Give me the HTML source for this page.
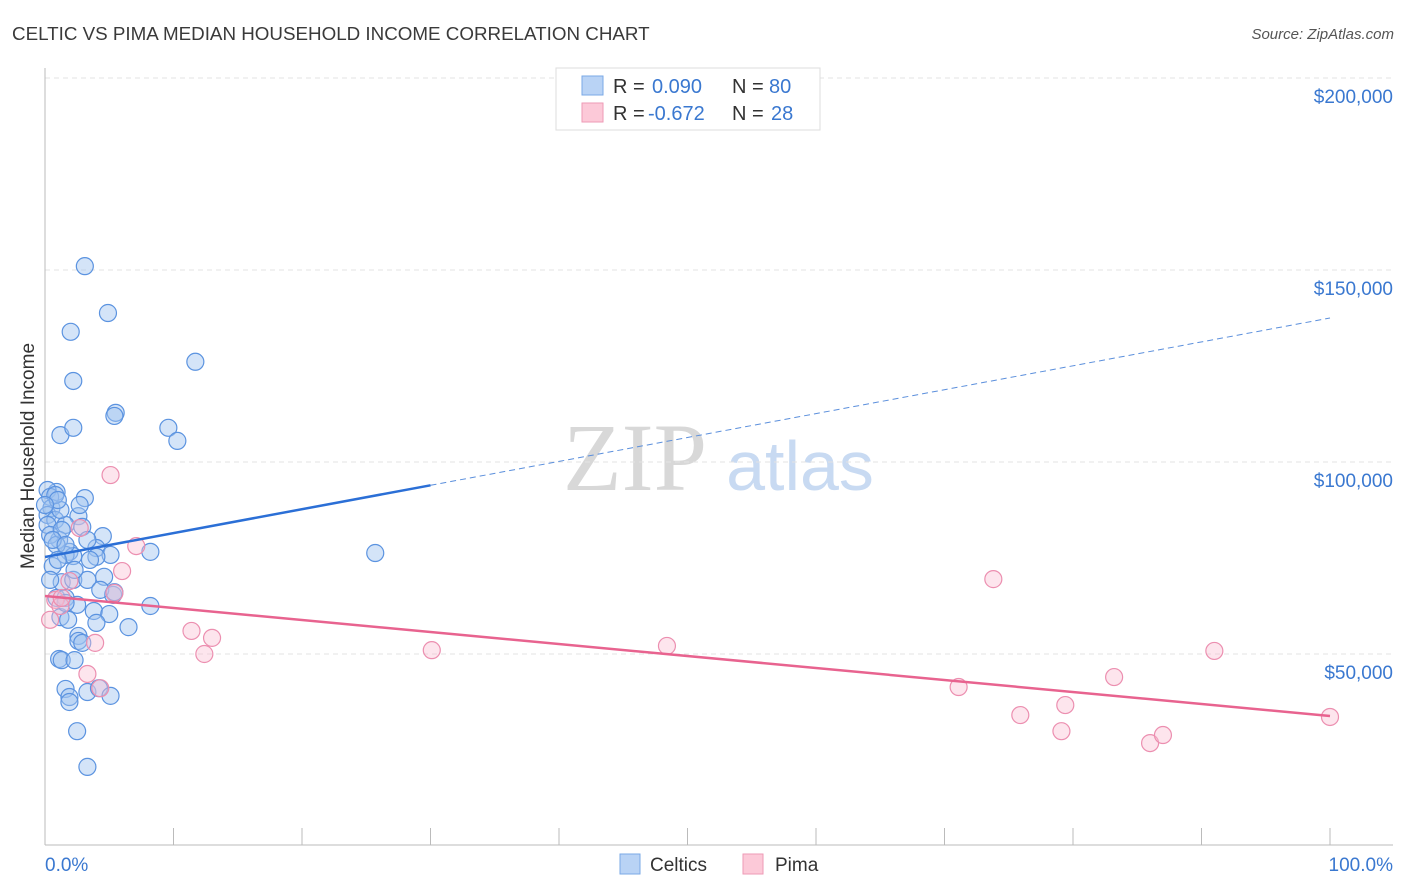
<!DOCTYPE html>
<html><head><meta charset="utf-8"><style>
body{margin:0;background:#fff;font-family:"Liberation Sans",sans-serif;}
svg{display:block}
</style></head><body>
<svg id="chart" width="1406" height="892" viewBox="0 0 1406 892" xmlns="http://www.w3.org/2000/svg">
<text x="12" y="40" font-size="18.8" fill="#3a3a3a">CELTIC VS PIMA MEDIAN HOUSEHOLD INCOME CORRELATION CHART</text>
<text x="1394" y="39" font-size="15" fill="#555" font-style="italic" text-anchor="end">Source: ZipAtlas.com</text>
<g>
<text x="635" y="490" font-family="Liberation Serif,serif" font-size="96" fill="#d8d8d8" text-anchor="middle">ZIP</text>
<text x="800" y="490" font-size="70" fill="#c8daf2" text-anchor="middle">atlas</text>
</g>
<g id="grid"></g>
<g id="axes"></g>
<g id="pts"></g>
<g id="lines"></g>
<text transform="translate(34,456) rotate(-90)" font-size="19" fill="#333" text-anchor="middle">Median Household Income</text>
<text x="45" y="871" font-size="19" fill="#3a78d0">0.0%</text>
<text x="1393" y="871" font-size="19" fill="#3a78d0" text-anchor="end">100.0%</text>
<g>
<rect x="556" y="68" width="264" height="62" fill="#fff" stroke="#ddd"/>
<rect x="582" y="76" width="21" height="19" fill="#b9d3f5" stroke="#7aa8e6"/>
<rect x="582" y="103" width="21" height="19" fill="#fcc9d8" stroke="#ee9ab6"/>
<text x="613" y="93" font-size="20" fill="#333">R = </text><text x="652" y="93" font-size="20" fill="#3a78d0">0.090</text>
<text x="732" y="93" font-size="20" fill="#333">N = </text><text x="769" y="93" font-size="20" fill="#3a78d0">80</text>
<text x="613" y="120" font-size="20" fill="#333">R = </text><text x="648" y="120" font-size="20" fill="#3a78d0">-0.672</text>
<text x="732" y="120" font-size="20" fill="#333">N = </text><text x="771" y="120" font-size="20" fill="#3a78d0">28</text>
</g>
<g>
<rect x="620" y="854" width="20" height="20" fill="#b9d3f5" stroke="#7aa8e6"/>
<text x="650" y="871" font-size="19" fill="#333">Celtics</text>
<rect x="743" y="854" width="20" height="20" fill="#fcc9d8" stroke="#ee9ab6"/>
<text x="775" y="871" font-size="19" fill="#333">Pima</text>
</g>
</svg>
<script>
const yTicks=[50000,100000,150000,200000];
const yTickLabels=["$50,000","$100,000","$150,000","$200,000"];
const xTicks=[0,10,20,30,40,50,60,70,80,90,100];
const celticsX=[3.1,4.9,2.0,11.7,2.2,5.5,5.4,9.6,1.2,2.2,10.3,3.1,0.9,0.2,0.4,0.5,0.2,0.8,2.6,2.9,1.6,4.5,1.1,1.9,4.0,5.1,8.2,25.7,0.6,1.6,2.2,4.0,1.3,2.2,3.3,4.6,0.9,1.6,2.5,3.8,5.0,6.5,8.2,4.0,1.2,1.6,2.6,2.6,2.9,1.1,1.3,2.3,1.6,1.9,1.9,3.3,4.2,5.1,2.5,3.3,0.2,0.4,0.9,1.2,5.3,4.3,0.8,1.0,1.3,2.7,0,0.4,5.4,0.6,3.3,1.8,2.3,3.5,1.0,1.6];
const celticsY=[151000,138800,133900,126100,121100,112800,112000,108900,107000,108900,105500,90600,92200,92700,90900,88000,86200,84900,85900,83100,83600,80700,79700,76600,77600,75800,76600,76300,72900,75800,75500,75300,68700,69300,69300,70100,64600,64600,62800,61200,60400,57000,62500,58100,59600,63300,54700,53400,52900,48700,48400,48400,40900,38800,37500,40100,41100,39100,29900,20600,83600,81000,78400,87500,65400,66700,91400,90100,82300,88800,88800,69300,66100,79700,79700,58900,71900,74500,74500,78400];
const pimaX=[5.1,7.1,6.0,1.9,2.7,0.8,1.2,5.4,11.4,13.0,12.4,3.9,3.3,4.3,30.1,48.4,73.8,71.1,75.9,79.4,79.1,83.2,86.0,87.0,91.0,100,1.3,0.4];
const pimaY=[96600,78100,71600,69000,82800,64100,62500,65900,56000,54200,50000,52900,44800,41100,51000,52100,69500,41400,34100,36700,29900,44000,26800,28900,50800,33600,64600,58900];
const celticsTrend=[75260,137500];
const pimaTrend=[65100,33850];
const NS="http://www.w3.org/2000/svg";
const X=p=>45+p*12.85;
const Y=v=>654-(v-50000)*192/50000;
function mk(tag,attrs,parent){const e=document.createElementNS(NS,tag);for(const k in attrs)e.setAttribute(k,attrs[k]);document.getElementById(parent).appendChild(e);return e;}
yTicks.forEach((v,i)=>{
 const l=mk('line',{x1:45,x2:1393,y1:Y(v),y2:Y(v),stroke:'#e3e3e3','stroke-dasharray':'5,4'},'grid');
 
 
 const t=mk('text',{x:1393,y:Y(v)+25,'font-size':19,fill:'#3a78d0','text-anchor':'end'},'grid');
 t.textContent=yTickLabels[i];
 
 
});
const ax=mk('line',{x1:45,x2:45,y1:68,y2:845,stroke:'#bbb'},'axes');


const bx=mk('line',{x1:45,x2:1393,y1:845,y2:845,stroke:'#bbb'},'axes');


xTicks.forEach(p=>{
 const t=mk('line',{x1:X(p),x2:X(p),y1:828,y2:845,stroke:'#bbb'},'axes');
 
 
});
celticsX.forEach((p,i)=>{
 const c=mk('circle',{cx:X(p),cy:Y(celticsY[i]),r:8.5,fill:'rgba(160,196,240,0.45)',stroke:'#5b93e0','stroke-width':1.2},'pts');
 
 
});
pimaX.forEach((p,i)=>{
 const c=mk('circle',{cx:X(p),cy:Y(pimaY[i]),r:8.5,fill:'rgba(250,190,210,0.4)',stroke:'#ec8fb0','stroke-width':1.2},'pts');
 
 
});
const bv=p=>celticsTrend[0]+(celticsTrend[1]-celticsTrend[0])*p/100;
const l1=mk('line',{x1:X(0),y1:Y(bv(0)),x2:X(30),y2:Y(bv(30)),stroke:'#2b6fd6','stroke-width':2.5},'lines');


const l2=mk('line',{x1:X(30),y1:Y(bv(30)),x2:X(100),y2:Y(bv(100)),stroke:'#5b8fdc','stroke-width':1,'stroke-dasharray':'6,4'},'lines');


const l3=mk('line',{x1:X(0),y1:Y(pimaTrend[0]),x2:X(100),y2:Y(pimaTrend[1]),stroke:'#e8638f','stroke-width':2.5},'lines');


</script>
</body></html>
